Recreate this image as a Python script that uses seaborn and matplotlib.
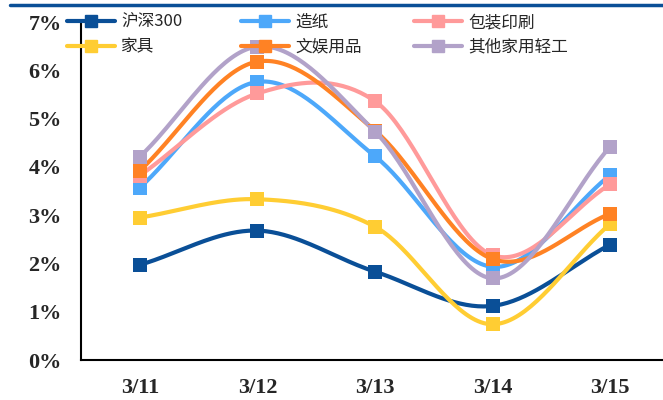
import numpy as np
import pandas as pd
import matplotlib
matplotlib.use("Agg")
import matplotlib.pyplot as plt
import seaborn as sns
from matplotlib.lines import Line2D

# 数据
dates = ["3/11", "3/12", "3/13", "3/14", "3/15"]
hs300 = [1.97, 2.68, 1.83, 1.12, 2.39]
zaozhi = [3.57, 5.76, 4.22, 1.93, 3.83]
baozhuang = [3.82, 5.52, 5.36, 2.17, 3.64]
jiaju = [2.95, 3.33, 2.76, 0.74, 2.82]
wenyu = [3.92, 6.18, 4.75, 2.09, 3.03]
qita = [4.21, 6.49, 4.73, 1.69, 4.42]

series = [
    ("沪深300", hs300, "#0a4f97"),
    ("造纸", zaozhi, "#4da8fa"),
    ("包装印刷", baozhuang, "#ff9a9a"),
    ("家具", jiaju, "#ffcd33"),
    ("文娱用品", wenyu, "#ff8224"),
    ("其他家用轻工", qita, "#b2a2c9"),
]


def catmull_rom(y, n=40):
    # Excel风格平滑线
    y = np.asarray(y, dtype=float)
    p = np.concatenate([[2 * y[0] - y[1]], y, [2 * y[-1] - y[-2]]])
    xs, ys = [], []
    for i in range(len(y) - 1):
        p0, p1, p2, p3 = p[i], p[i + 1], p[i + 2], p[i + 3]
        t = np.linspace(0, 1, n, endpoint=False)
        v = 0.5 * ((2 * p1) + (-p0 + p2) * t + (2 * p0 - 5 * p1 + 4 * p2 - p3) * t ** 2
                   + (-p0 + 3 * p1 - 3 * p2 + p3) * t ** 3)
        xs.append(i + t)
        ys.append(v)
    xs.append([len(y) - 1])
    ys.append([y[-1]])
    return np.concatenate(xs), np.concatenate(ys)


sns.set_style("white")
plt.rcParams["font.family"] = ["Noto Sans CJK SC", "DejaVu Sans"]

fig = plt.figure(figsize=(6.63, 4.0), dpi=100)
ax = fig.add_axes([81 / 663, 0.1, (669 - 81) / 663, 0.845])

handles = []
for name, vals, color in series:
    xs, ys = catmull_rom(vals)
    sns.lineplot(x=xs, y=ys, ax=ax, color=color, linewidth=3.0, sort=False, legend=False)
    sns.scatterplot(x=np.arange(len(dates)), y=vals, ax=ax, color=color, marker="s",
                    s=95, linewidth=0, zorder=3, legend=False)
    handles.append(Line2D([], [], color=color, linewidth=3.0, marker="s", markersize=9,
                          label=name))

ax.set_xlim(-0.5, 4.5)
ax.set_ylim(0, 7)
ax.set_xticks(range(len(dates)))
ax.set_xticklabels(dates)
ax.set_xticks(np.arange(-0.5, 4.6, 1), minor=True)
ax.tick_params(axis="x", which="major", length=0, pad=13)
ax.tick_params(axis="x", which="minor", direction="out", length=4, width=1.5, color="black")
ax.set_yticks(range(8))
ax.set_yticklabels([f"{i}%" for i in range(8)])
ax.tick_params(axis="y", direction="out", length=5, width=1.5, color="black", pad=9)
for lab in ax.get_xticklabels() + ax.get_yticklabels():
    lab.set_fontfamily("Liberation Serif")
    lab.set_fontweight("bold")
    lab.set_fontsize(16)

for s in ["top", "right"]:
    ax.spines[s].set_visible(False)
for s in ["left", "bottom"]:
    ax.spines[s].set_color("black")
    ax.spines[s].set_linewidth(1.5)

# 图例：三列等宽
col_x = [67, 241, 414]
for k, cx in enumerate(col_x):
    pair = [handles[k], handles[k + 3]]
    leg = ax.legend(pair, [h.get_label() for h in pair], loc="upper left",
                    bbox_to_anchor=(cx / 663, 1 - 14 / 400), bbox_transform=fig.transFigure,
                    frameon=False, fontsize=12, handlelength=2.9, handletextpad=0.35,
                    labelspacing=0.45, borderaxespad=0, borderpad=0)
    if k < 2:
        ax.add_artist(leg)

# 顶部蓝线
fig.add_artist(Line2D([10 / 663, 1], [1 - 5 / 400, 1 - 5 / 400], color="#0a4f97",
                      linewidth=2.5, transform=fig.transFigure))

fig.savefig("out.png", dpi=100)
